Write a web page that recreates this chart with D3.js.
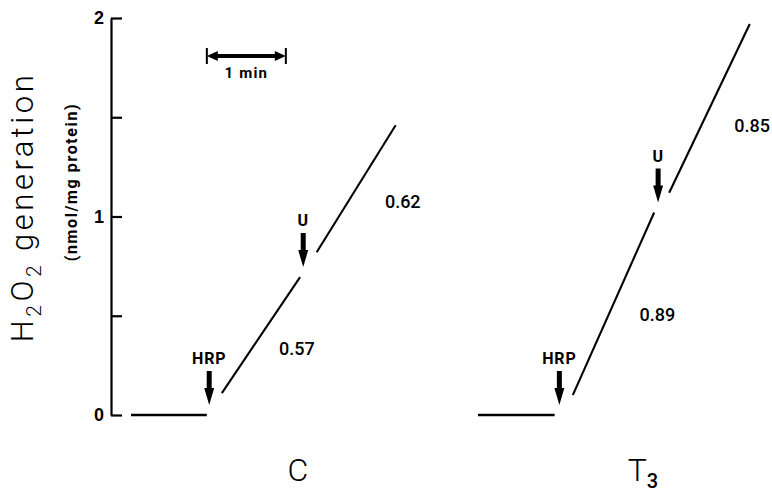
<!DOCTYPE html>
<html>
<head>
<meta charset="utf-8">
<script src="https://cdn.jsdelivr.net/npm/d3@7"></script>
<style>
  body { margin: 0; background: #fff; }
  svg { display: block; font-family: Roboto, "DejaVu Sans", sans-serif; }
</style>
</head>
<body>
<div id="chart"></div>
<script>
// panels and time traces (minutes from panel start, nmol/mg protein)
var panels = ["C", "T3"];
var segC = [[0, 0, 0.96, 0], [1.15, 0.11, 2.14, 0.695], [2.35, 0.82, 3.35, 1.46]];
var segT3 = [[0, 0, 0.97, 0], [1.20, 0.10, 2.23, 1.02], [2.42, 1.12, 3.44, 1.97]];
// additions: label, time, value at arrow tip
var addC = [["HRP", 0.99, 0.05], ["U", 2.18, 0.745]];
var addT3 = [["HRP", 1.03, 0.05], ["U", 2.28, 1.07]];
// rates written next to the traces
var rateC = [["0.57", 2.10, 0.34], ["0.62", 3.44, 1.08]];
var rateT3 = [["0.89", 2.27, 0.51], ["0.85", 3.47, 1.46]];
var yTicks = [0, 0.5, 1, 1.5, 2];
var scaleBar = [0.96, 1.96]; // 1 min, in panel C time

var segs = [segC, segT3], adds = [addC, addT3], rates = [rateC, rateT3];

var W = 772, H = 492;
var svg = d3.select("#chart").append("svg").attr("width", W).attr("height", H);

var y = d3.scaleLinear().domain([0, 2]).range([415, 18]);
var t = d3.scaleLinear().domain([0, 1]).range([0, 79]);
var px = d3.scalePoint().domain(panels).range([131, 478]);

// y axis
var axis = svg.append("g").attr("transform", "translate(111,0)")
  .call(d3.axisLeft(y).tickValues(yTicks).tickSizeInner(-11).tickSizeOuter(0).tickPadding(7)
    .tickFormat(function(d){ return d % 1 === 0 ? d : ""; }));
axis.select(".domain").attr("stroke-width", 2.2);
axis.selectAll(".tick line").attr("stroke-width", 2.2);
axis.selectAll(".tick text").attr("font-size", 18).attr("font-weight", 700).attr("fill", "#000");

// axis titles
var title = svg.append("text").attr("transform", "translate(33,207) rotate(-90)")
  .attr("text-anchor", "middle").attr("font-size", 31).attr("font-weight", 300)
  .attr("letter-spacing", 3.5).attr("fill", "#000");
title.append("tspan").text("H");
title.append("tspan").attr("font-size", 21).attr("dy", 8).text("2");
title.append("tspan").attr("dy", -8).text("O");
title.append("tspan").attr("font-size", 21).attr("dy", 8).text("2");
title.append("tspan").attr("dy", -8).text(" generation");

svg.append("text").attr("transform", "translate(77,182) rotate(-90)")
  .attr("text-anchor", "middle").attr("font-size", 16).attr("font-weight", 700)
  .attr("letter-spacing", 1.6).text("(nmol/mg protein)");

// time scale bar
var sb = svg.append("g").attr("transform", "translate(" + px("C") + ",56)");
var sx0 = t(scaleBar[0]), sx1 = t(scaleBar[1]);
sb.append("line").attr("x1", sx0 + 4).attr("x2", sx1 - 4).attr("stroke", "#000").attr("stroke-width", 4);
sb.append("path").attr("d", "M" + sx0 + ",0 l11,-5 l0,10 Z M" + sx1 + ",0 l-11,-5 l0,10 Z").attr("fill", "#000");
sb.selectAll(".cap").data([sx0, sx1]).enter().append("line")
  .attr("x1", function(d){ return d; }).attr("x2", function(d){ return d; })
  .attr("y1", -8).attr("y2", 8).attr("stroke", "#000").attr("stroke-width", 2);
sb.append("text").attr("x", (sx0 + sx1) / 2).attr("y", 22).attr("text-anchor", "middle")
  .attr("font-size", 15).attr("font-weight", 700).attr("letter-spacing", 1.2).text("1 min");

// panels
panels.forEach(function(p, i) {
  var g = svg.append("g").attr("transform", "translate(" + px(p) + ",0)");

  g.selectAll(".seg").data(segs[i]).enter().append("line")
    .attr("x1", function(d){ return t(d[0]); }).attr("y1", function(d){ return y(d[1]); })
    .attr("x2", function(d){ return t(d[2]); }).attr("y2", function(d){ return y(d[3]); })
    .attr("stroke", "#000").attr("stroke-width", function(d, j){ return j === 0 ? 2.6 : 2.1; });

  var a = g.selectAll(".add").data(adds[i]).enter().append("g")
    .attr("transform", function(d){ return "translate(" + t(d[1]) + "," + y(d[2]) + ")"; });
  a.append("path").attr("d", "M-2.5,-34 L2.5,-34 L2.5,-17 L5,-17 L0,0 L-5,-17 L-2.5,-17 Z").attr("fill", "#000");
  a.append("text").attr("y", -41).attr("text-anchor", "middle")
    .attr("font-size", 16).attr("font-weight", 700).attr("letter-spacing", 0.8)
    .text(function(d){ return d[0]; });

  g.selectAll(".rate").data(rates[i]).enter().append("text")
    .attr("x", function(d){ return t(d[1]); }).attr("y", function(d){ return y(d[2]) + 7; })
    .attr("text-anchor", "middle").attr("font-size", 18).attr("font-weight", 500)
    .text(function(d){ return d[0]; });
});

// panel labels
svg.append("text").attr("x", 298).attr("y", 481).attr("text-anchor", "middle")
  .attr("font-size", 32).attr("font-weight", 300).text("C");
var t3 = svg.append("text").attr("x", 643).attr("y", 481).attr("text-anchor", "middle")
  .attr("font-size", 32).attr("font-weight", 300);
t3.append("tspan").text("T");
t3.append("tspan").attr("font-size", 20).attr("dy", 7).attr("font-weight", 500).text("3");
</script>
</body>
</html>
